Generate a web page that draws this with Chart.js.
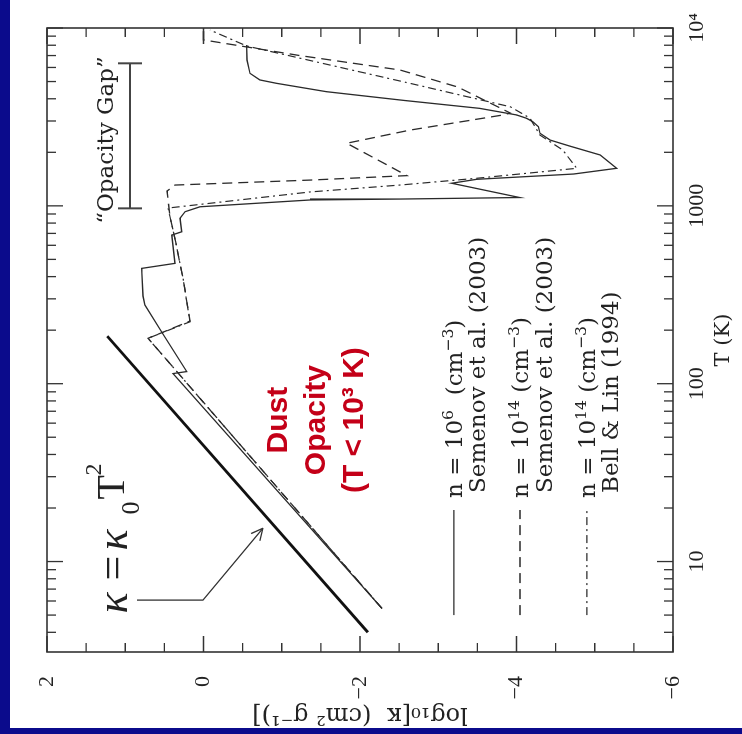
<!DOCTYPE html>
<html>
<head>
<meta charset="utf-8">
<script src="https://cdn.jsdelivr.net/npm/chart.js@4.4.1/dist/chart.umd.min.js"></script>
<style>
    html, body { margin: 0; padding: 0; background: #fff; }
    body { width: 742px; height: 734px; overflow: hidden; position: relative; }
    /* the figure is printed sideways, so the whole chart is turned a quarter left */
    #wrap { position: absolute; left: 0; top: 0; width: 734px; height: 742px;
            transform-origin: 0 0; transform: translate(0, 734px) rotate(-90deg); }
    .frame { position: absolute; background: #0b0b8c; }
</style>
</head>
<body>
<div id="wrap"><canvas id="opacityChart" width="734" height="742"></canvas></div>
<div class="frame" style="left:0;top:0;width:10px;height:734px"></div>
<div class="frame" style="left:0;top:728px;width:742px;height:6px"></div>
<script>
// temperatures in K, opacities as log10(kappa)
const kappaLawT = [4, 185];
const kappaLawLogK = [-2.10, 1.23];

const semenov6T = [5.45, 114, 117, 191, 277, 311, 445, 475, 685, 715, 851, 927, 988, 1079, 1092, 1114,
    1340, 1410, 1510, 1626, 1932, 2168, 2344, 2560, 2785, 2970, 3105, 3245, 3533, 3908, 4385, 4885,
    5105, 5560, 6607, 8020];
const semenov6LogK = [-2.28, 0.39, 0.215, 0.52, 0.748, 0.773, 0.79, 0.364, 0.406, 0.279, 0.30, 0.236, 0.045, -1.36, -2.51, -4.04,
    -3.17, -3.49, -4.73, -5.28, -5.07, -4.68, -4.43, -4.30, -4.28, -4.21, -4.13, -4.00, -3.53, -2.58, -1.57, -0.935,
    -0.72, -0.594, -0.556, -0.552];

const semenov14T = [5.45, 180, 225, 383, 589, 869, 1211, 1309, 1396, 1479, 2249, 2667, 3245, 3327, 4656, 5808, 7000, 8570, 10000];
const semenov14LogK = [-2.28, 0.709, 0.173, 0.258, 0.343, 0.428, 0.466, 0.364, -1.36, -2.60, -1.83, -2.64, -3.83, -3.92, -3.25, -2.51, -1.23, 0.0, 0.0];

const bellLinT = [5.45, 180, 223, 383, 589, 869, 972, 1197, 1309, 1429, 1626, 2061, 2500, 3119, 3606, 4198, 4885, 7925, 9745];
const bellLinLogK = [-2.28, 0.709, 0.173, 0.258, 0.343, 0.428, 0.454, -1.36, -2.51, -3.49, -4.77, -4.59, -4.30, -4.17, -3.92, -3.28, -2.64, -0.55, -0.083];

const tTickValues = [10, 100, 1000, 10000];
const tTickLabels = ['10', '100', '1000', '10⁴'];
const kTickValues = [2, 0, -2, -4, -6];
const kTickLabels = ['2', '0', '−2', '−4', '−6'];

const legendLines = [
    ['n = 10^{6}  (cm^{−3})', 'Semenov et al. (2003)'],
    ['n = 10^{14} (cm^{−3})', 'Semenov et al. (2003)'],
    ['n = 10^{14} (cm^{−3})', 'Bell & Lin (1994)']
];
const dustLines = ['Dust', 'Opacity', '(T < 10³ K)'];

const serif = '"Liberation Serif", "DejaVu Serif", serif';
const wideSerif = '"DejaVu Serif", serif';
const ink = '#2a2a2a';

function points(ts, ks) {
    return ts.map((t, i) => ({ x: t, y: ks[i] }));
}

// text with ^{..} and _{..} pieces
function drawRich(ctx, str, x, y, size, family, style) {
    const parts = str.split(/(\^\{[^}]*\}|_\{[^}]*\})/).filter(Boolean);
    parts.forEach(p => {
        let txt = p, s = size, dy = 0;
        if (p.startsWith('^{')) { txt = p.slice(2, -1); s = size * 0.68; dy = -size * 0.4; }
        else if (p.startsWith('_{')) { txt = p.slice(2, -1); s = size * 0.68; dy = size * 0.22; }
        ctx.font = (style || '') + ' ' + s + 'px ' + family;
        ctx.fillText(txt, x, y + dy);
        x += ctx.measureText(txt).width;
    });
}

// box round the plot with inward ticks on every side
const frameTicks = {
    id: 'frameTicks',
    afterDatasetsDraw(chart) {
        const { ctx, chartArea: a, scales: { x, y } } = chart;
        ctx.save();
        ctx.strokeStyle = '#333';
        ctx.lineWidth = 1.6;
        ctx.strokeRect(a.left, a.top, a.right - a.left, a.bottom - a.top);
        ctx.lineWidth = 1.3;
        ctx.beginPath();
        x.ticks.forEach(t => {
            const e = Math.floor(Math.log10(t.value) + 1e-9);
            const sig = t.value / Math.pow(10, e);
            if (Math.abs(sig - Math.round(sig)) > 1e-6) return;
            const len = Math.round(sig) === 1 ? 16 : 9;
            const p = x.getPixelForValue(t.value);
            ctx.moveTo(p, a.bottom); ctx.lineTo(p, a.bottom - len);
            ctx.moveTo(p, a.top); ctx.lineTo(p, a.top + len);
        });
        y.ticks.forEach(t => {
            const len = t.value % 2 === 0 ? 16 : 9;
            const p = y.getPixelForValue(t.value);
            ctx.moveTo(a.left, p); ctx.lineTo(a.left + len, p);
            ctx.moveTo(a.right, p); ctx.lineTo(a.right - len, p);
        });
        ctx.stroke();
        ctx.restore();
    }
};

const notes = {
    id: 'notes',
    afterDraw(chart) {
        const { ctx, scales: { x, y } } = chart;
        const P = (t, k) => [x.getPixelForValue(t), y.getPixelForValue(k)];
        ctx.save();
        ctx.textAlign = 'left';
        ctx.textBaseline = 'alphabetic';
        ctx.fillStyle = '#222';

        // legend: sample line + two text rows per model
        const sampleK = [-3.20, -4.045, -4.90];
        const rowK = [[-3.304, -3.597], [-4.147, -4.454], [-5.003, -5.297]];
        legendLines.forEach((rows, i) => {
            const ds = chart.data.datasets[i + 1];
            const [u0, v0] = P(5.0, sampleK[i]);
            const [u1] = P(19.5, sampleK[i]);
            ctx.strokeStyle = ds.borderColor;
            ctx.lineWidth = ds.borderWidth;
            ctx.setLineDash(ds.borderDash || []);
            ctx.beginPath(); ctx.moveTo(u0, v0); ctx.lineTo(u1, v0); ctx.stroke();
            ctx.setLineDash([]);
            const [ua, va] = P(22.8, rowK[i][0]);
            drawRich(ctx, rows[0], ua, va, 23, wideSerif);
            const [ub, vb] = P(24.3, rowK[i][1]);
            drawRich(ctx, rows[1], ub, vb, 23, wideSerif);
        });

        // kappa = kappa_0 T^2 label
        const [fu, fv] = P(5.1, 0.98);
        ctx.font = 'italic 44px ' + serif;
        ctx.fillText('κ', fu, fv);
        ctx.font = '44px ' + serif;
        ctx.fillText('=', fu + 33, fv);
        ctx.font = 'italic 44px ' + serif;
        ctx.fillText('κ', fu + 63, fv);
        ctx.font = '26px ' + serif;
        ctx.fillText('0', fu + 99, fv + 12);
        ctx.font = '40px ' + serif;
        ctx.fillText('T', fu + 114, fv - 3);
        ctx.font = '24px ' + serif;
        ctx.fillText('2', fu + 138, fv - 26);

        // arrow to the power law
        const arrow = [P(6.07, 0.85), P(6.07, 0.006), P(15.4, -0.76)];
        ctx.strokeStyle = '#333';
        ctx.lineWidth = 1.3;
        ctx.beginPath();
        ctx.moveTo(arrow[0][0], arrow[0][1]);
        ctx.lineTo(arrow[1][0], arrow[1][1]);
        ctx.lineTo(arrow[2][0], arrow[2][1]);
        ctx.stroke();
        const ang = Math.atan2(arrow[2][1] - arrow[1][1], arrow[2][0] - arrow[1][0]);
        ctx.beginPath();
        [-0.45, 0.45].forEach(d => {
            ctx.moveTo(arrow[2][0], arrow[2][1]);
            ctx.lineTo(arrow[2][0] - 13 * Math.cos(ang + d), arrow[2][1] - 13 * Math.sin(ang + d));
        });
        ctx.stroke();

        // "Opacity Gap" bracket
        const [g0, gv] = P(968, 0.94);
        const [g1] = P(6330, 0.94);
        ctx.strokeStyle = '#444';
        ctx.lineWidth = 2;
        ctx.beginPath();
        ctx.moveTo(g0, gv); ctx.lineTo(g1, gv);
        ctx.moveTo(g0, gv - 12); ctx.lineTo(g0, gv + 12);
        ctx.moveTo(g1, gv - 12); ctx.lineTo(g1, gv + 12);
        ctx.stroke();
        const [ou, ov] = P(2344, 1.157);
        ctx.textAlign = 'center';
        ctx.font = '23px ' + wideSerif;
        ctx.fillText('“Opacity Gap”', ou, ov);

        // red dust note
        ctx.fillStyle = '#c40018';
        ctx.font = 'bold 30px "Liberation Sans", Arial, sans-serif';
        const dustK = [-1.067, -1.553, -2.038];
        dustLines.forEach((line, i) => {
            const [du, dv] = P(62.4, dustK[i]);
            ctx.fillText(line, du, dv);
        });
        ctx.restore();
    }
};

function makeChart() {
    const ctx = document.getElementById('opacityChart').getContext('2d');
    const common = { showLine: true, pointRadius: 0, fill: false, tension: 0 };
    return new Chart(ctx, {
        type: 'scatter',
        data: {
            datasets: [
                { ...common, label: 'κ = κ0 T²', data: points(kappaLawT, kappaLawLogK), borderColor: '#111', borderWidth: 2.8 },
                { ...common, label: 'n=10^6 Semenov et al. (2003)', data: points(semenov6T, semenov6LogK), borderColor: ink, borderWidth: 1.3 },
                { ...common, label: 'n=10^14 Semenov et al. (2003)', data: points(semenov14T, semenov14LogK), borderColor: ink, borderWidth: 1.3, borderDash: [10, 6] },
                { ...common, label: 'n=10^14 Bell & Lin (1994)', data: points(bellLinT, bellLinLogK), borderColor: ink, borderWidth: 1.2, borderDash: [8, 4, 2, 4] }
            ]
        },
        options: {
            responsive: false,
            animation: false,
            devicePixelRatio: 1,
            layout: { padding: { top: 47, right: 28, bottom: 0, left: 0 } },
            plugins: { legend: { display: false }, tooltip: { enabled: false } },
            scales: {
                x: {
                    type: 'logarithmic', position: 'bottom', min: 3.1, max: 10000,
                    grid: { display: false }, border: { display: false },
                    ticks: {
                        autoSkip: false, maxRotation: 0, padding: 3, color: '#222',
                        font: { family: serif, size: 22 },
                        callback: v => { const i = tTickValues.indexOf(v); return i < 0 ? '' : tTickLabels[i]; }
                    },
                    title: { display: true, text: 'T (K)', color: '#222', font: { family: wideSerif, size: 21 }, padding: { top: 0, bottom: 6 } },
                    afterFit: s => { s.height = 69; }
                },
                y: {
                    type: 'linear', position: 'left', min: -6, max: 2,
                    grid: { display: false }, border: { display: false },
                    ticks: {
                        stepSize: 0.5, autoSkip: false, padding: 16, color: '#222',
                        font: { family: serif, size: 22 },
                        callback: v => { const i = kTickValues.indexOf(v); return i < 0 ? '' : kTickLabels[i]; }
                    },
                    title: { display: true, text: 'log₁₀[κ  (cm² g⁻¹)]', color: '#222', font: { family: wideSerif, size: 24 }, padding: { top: 5, bottom: 0 } },
                    afterFit: s => { s.width = 82; }
                }
            }
        },
        plugins: [frameTicks, notes]
    });
}

document.addEventListener('DOMContentLoaded', () => {
    try {
        makeChart();
    } catch (e) {
        console.error('chart error', e);
    }
});
</script>
</body>
</html>
